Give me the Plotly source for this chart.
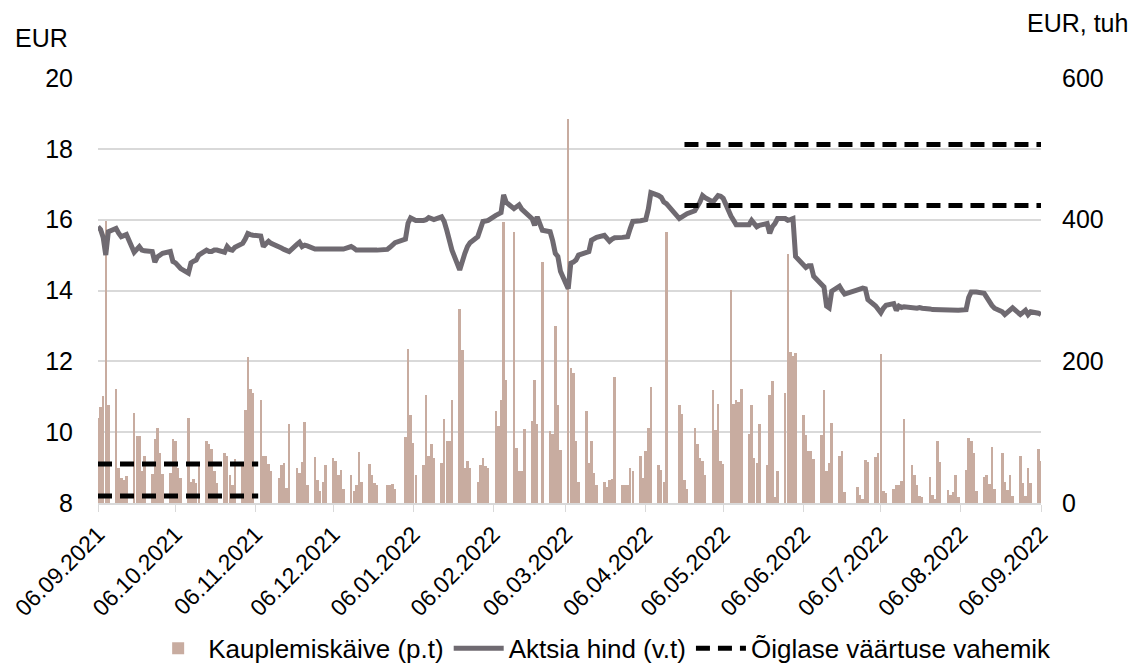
import pandas as pd
import plotly.graph_objects as go

# ---------------- data ----------------
holidays = ["2021-12-24", "2021-12-31", "2022-02-24", "2022-04-15", "2022-04-18",
            "2022-06-23", "2022-06-24"]

vol_2021_09 = [120, 135, 151, 398, 138, 161, 49, 35, 33, 38, 127, 94, 95, 45, 67, 41, 90, 106, 70]
vol_2021_10 = [41, 43, 90, 88, 49, 36, 120, 30, 34, 28, 52, 88, 83, 76, 45, 28, 70, 66, 40, 26, 62]
vol_2021_11 = [55, 132, 206, 161, 155, 146, 66, 67, 55, 45, 35, 53, 56, 21, 112, 50, 42, 58, 115, 25, 65, 33]
vol_2021_12 = [17, 30, 53, 64, 59, 39, 47, 20, 39, 17, 25, 72, 30, 55, 39, 28, 26, 25, 25, 27, 20]
vol_2022_01 = [93, 217, 124, 85, 40, 53, 152, 66, 84, 64, 56, 118, 87, 87, 146, 274, 216, 49, 59, 49, 30]
vol_2022_02 = [53, 64, 52, 49, 130, 109, 146, 397, 173, 382, 78, 45, 45, 104, 116, 173, 112, 340, 101]
vol_2022_03 = [97, 250, 138, 75, 542, 191, 184, 87, 30, 130, 56, 87, 42, 25, 30, 22, 33, 34, 178, 25, 25, 26, 49]
vol_2022_04 = [45, 67, 35, 73, 106, 164, 53, 47, 30, 383, 138, 125, 33, 20, 106, 84, 64, 59, 40]
vol_2022_05 = [160, 103, 140, 60, 55, 301, 140, 145, 143, 161, 98, 138, 63, 56, 112, 53, 153, 172, 8, 45, 155, 352]
vol_2022_06 = [213, 207, 212, 124, 96, 73, 73, 62, 96, 159, 45, 57, 113, 66, 73, 15, 23, 11, 5, 61]
vol_2022_07 = [58, 65, 71, 210, 17, 14, 20, 25, 25, 31, 118, 53, 39, 25, 10, 8, 37, 12, 5, 88, 58]
vol_2022_08 = [19, 12, 15, 39, 8, 47, 92, 88, 71, 17, 37, 39, 27, 79, 20, 70, 30, 19, 39, 10, 67, 28, 10]
vol_2022_09 = [49, 28, 76, 60]

price_dates = [
    "2021-09-06", "2021-09-07", "2021-09-08", "2021-09-09", "2021-09-10", "2021-09-13", "2021-09-14",
    "2021-09-15", "2021-09-16", "2021-09-17", "2021-09-20", "2021-09-21", "2021-09-22", "2021-09-23",
    "2021-09-24", "2021-09-27", "2021-09-28", "2021-09-29", "2021-09-30", "2021-10-01", "2021-10-04",
    "2021-10-05", "2021-10-06", "2021-10-07", "2021-10-08", "2021-10-11", "2021-10-12", "2021-10-13",
    "2021-10-14", "2021-10-15", "2021-10-18", "2021-10-19", "2021-10-20", "2021-10-21", "2021-10-22",
    "2021-10-25", "2021-10-26", "2021-10-27", "2021-10-28", "2021-10-29", "2021-11-01", "2021-11-02",
    "2021-11-03", "2021-11-04", "2021-11-05", "2021-11-08", "2021-11-09", "2021-11-10", "2021-11-11",
    "2021-11-12", "2021-11-15", "2021-11-16", "2021-11-17", "2021-11-18", "2021-11-19", "2021-11-22",
    "2021-11-23", "2021-11-24", "2021-11-25", "2021-11-26", "2021-11-29", "2021-12-10", "2021-12-13",
    "2021-12-14", "2021-12-15", "2021-12-23", "2021-12-27", "2021-12-28", "2021-12-29", "2021-12-30",
    "2022-01-03", "2022-01-04", "2022-01-05", "2022-01-06", "2022-01-07", "2022-01-10", "2022-01-11",
    "2022-01-12", "2022-01-13", "2022-01-14", "2022-01-17", "2022-01-18", "2022-01-19", "2022-01-20",
    "2022-01-21", "2022-01-24", "2022-01-25", "2022-01-26", "2022-01-27", "2022-01-28", "2022-01-31",
    "2022-02-01", "2022-02-02", "2022-02-03", "2022-02-04", "2022-02-07", "2022-02-08", "2022-02-09",
    "2022-02-10", "2022-02-11", "2022-02-14", "2022-02-15", "2022-02-16", "2022-02-17", "2022-02-18",
    "2022-02-21", "2022-02-22", "2022-02-23", "2022-02-25", "2022-02-28", "2022-03-01", "2022-03-02",
    "2022-03-03", "2022-03-04", "2022-03-07", "2022-03-08", "2022-03-09", "2022-03-10", "2022-03-11",
    "2022-03-14", "2022-03-15", "2022-03-16", "2022-03-17", "2022-03-18", "2022-03-21", "2022-03-22",
    "2022-03-23", "2022-03-24", "2022-03-25", "2022-03-28", "2022-03-29", "2022-03-30", "2022-03-31",
    "2022-04-01", "2022-04-04", "2022-04-05", "2022-04-06", "2022-04-07", "2022-04-08", "2022-04-11",
    "2022-04-12", "2022-04-13", "2022-04-14", "2022-04-19", "2022-04-20", "2022-04-21", "2022-04-22",
    "2022-04-25", "2022-04-26", "2022-04-27", "2022-04-28", "2022-04-29", "2022-05-02", "2022-05-03",
    "2022-05-04", "2022-05-05", "2022-05-06", "2022-05-09", "2022-05-10", "2022-05-11", "2022-05-12",
    "2022-05-13", "2022-05-16", "2022-05-17", "2022-05-18", "2022-05-19", "2022-05-20", "2022-05-23",
    "2022-05-24", "2022-05-25", "2022-05-26", "2022-05-27", "2022-05-30", "2022-05-31", "2022-06-01",
    "2022-06-02", "2022-06-03", "2022-06-06", "2022-06-07", "2022-06-08", "2022-06-09", "2022-06-10",
    "2022-06-13", "2022-06-14", "2022-06-15", "2022-06-16", "2022-06-17", "2022-06-20", "2022-06-21",
    "2022-06-22", "2022-06-27", "2022-06-28", "2022-06-29", "2022-06-30", "2022-07-01", "2022-07-04",
    "2022-07-05", "2022-07-06", "2022-07-07", "2022-07-08", "2022-07-11", "2022-07-12", "2022-07-13",
    "2022-07-14", "2022-07-15", "2022-07-18", "2022-07-19", "2022-07-20", "2022-07-21", "2022-07-22",
    "2022-07-25", "2022-07-26", "2022-08-05", "2022-08-08", "2022-08-09", "2022-08-10", "2022-08-11",
    "2022-08-12", "2022-08-15", "2022-08-16", "2022-08-17", "2022-08-18", "2022-08-19", "2022-08-22",
    "2022-08-23", "2022-08-24", "2022-08-25", "2022-08-26", "2022-08-29", "2022-08-30", "2022-08-31",
    "2022-09-01", "2022-09-02", "2022-09-05", "2022-09-06",
]
price_eur = [
    15.80, 15.72, 15.50, 15.00, 15.66, 15.75, 15.62,
    15.52, 15.55, 15.58, 15.08, 15.16, 15.24, 15.14,
    15.12, 15.10, 14.80, 14.95, 15.02, 15.05, 15.10,
    14.82, 14.78, 14.70, 14.62, 14.49, 14.78, 14.83,
    14.86, 15.00, 15.14, 15.10, 15.10, 15.14, 15.14,
    15.08, 15.24, 15.16, 15.14, 15.22, 15.33, 15.45,
    15.61, 15.58, 15.56, 15.54, 15.24, 15.32, 15.39,
    15.33, 15.26, 15.20, 15.16, 15.12, 15.10, 15.30,
    15.36, 15.24, 15.28, 15.26, 15.17, 15.17, 15.24,
    15.20, 15.14, 15.14, 15.16, 15.22, 15.28, 15.35,
    15.45, 15.90, 16.05, 16.00, 15.98, 15.98, 16.00,
    16.06, 16.02, 16.00, 16.08, 15.95, 15.70, 15.40,
    15.14, 14.58, 14.85, 15.05, 15.24, 15.35, 15.52,
    15.70, 15.95, 15.96, 15.98, 16.12, 16.15, 16.20,
    16.70, 16.49, 16.31, 16.36, 16.42, 16.30, 16.23,
    16.03, 15.84, 16.08, 15.70, 15.66, 15.40, 15.05,
    14.96, 14.54, 14.05, 14.77, 14.80, 14.86, 15.00,
    15.06, 15.10, 15.42, 15.48, 15.50, 15.56, 15.45,
    15.39, 15.45, 15.49, 15.50, 15.52, 15.52, 15.75,
    15.95, 15.97, 15.98, 16.00, 16.30, 16.76, 16.68,
    16.63, 16.50, 16.45, 16.03, 16.08, 16.12, 16.17,
    16.25, 16.36, 16.50, 16.68, 16.62, 16.50, 16.62,
    16.68, 16.66, 16.60, 16.10, 15.95, 15.86, 15.86,
    15.86, 15.86, 15.98, 15.88, 15.80, 15.84, 15.89,
    15.61, 15.80, 15.89, 16.03, 16.03, 15.98, 16.00,
    16.03, 14.96, 14.70, 14.65, 14.70, 14.70, 14.40,
    14.20, 14.10, 13.56, 13.51, 13.98, 14.12, 14.00,
    13.90, 14.02, 14.05, 14.07, 14.05, 13.74, 13.56,
    13.45, 13.37, 13.50, 13.58, 13.63, 13.44, 13.56,
    13.52, 13.54, 13.51, 13.53, 13.50, 13.52, 13.50,
    13.48, 13.46, 13.44, 13.46, 13.80, 13.96, 13.96,
    13.96, 13.92, 13.79, 13.65, 13.58, 13.50, 13.40,
    13.32, 13.40, 13.46, 13.51, 13.32, 13.38, 13.44,
    13.32, 13.40, 13.36, 13.32,
]

fair_2021_dates = ["2021-09-06", "2021-11-07"]
fair_2021_low, fair_2021_high = 8.20, 9.10
fair_2022_dates = ["2022-04-21", "2022-09-06"]
fair_2022_low, fair_2022_high = 16.40, 18.12

tick_dates = ["2021-09-06", "2021-10-06", "2021-11-06", "2021-12-06", "2022-01-06", "2022-02-06",
              "2022-03-06", "2022-04-06", "2022-05-06", "2022-06-06", "2022-07-06", "2022-08-06",
              "2022-09-06"]
tick_labels = ["06.09.2021", "06.10.2021", "06.11.2021", "06.12.2021", "06.01.2022", "06.02.2022",
               "06.03.2022", "06.04.2022", "06.05.2022", "06.06.2022", "06.07.2022", "06.08.2022",
               "06.09.2022"]

# ---------------- build ----------------
trading_days = [d for d in pd.bdate_range("2021-09-06", "2022-09-06")
                if d.strftime("%Y-%m-%d") not in holidays]
volumes = (vol_2021_09 + vol_2021_10 + vol_2021_11 + vol_2021_12 + vol_2022_01 + vol_2022_02 +
           vol_2022_03 + vol_2022_04 + vol_2022_05 + vol_2022_06 + vol_2022_07 + vol_2022_08 +
           vol_2022_09)
n = min(len(trading_days), len(volumes))
trading_days = trading_days[:n]
volumes = volumes[:n]

fair_x = (fair_2021_dates + [None] + fair_2021_dates + [None] +
          fair_2022_dates + [None] + fair_2022_dates)
fair_y = ([fair_2021_low, fair_2021_low, None, fair_2021_high, fair_2021_high, None,
           fair_2022_low, fair_2022_low, None, fair_2022_high, fair_2022_high])

FONT = "Liberation Sans, Arial, sans-serif"
BAR_C = "#C8ACA0"
LINE_C = "#6F6A71"
GRID_C = "#D9D9D9"

fig = go.Figure()
fig.add_trace(go.Bar(
    x=trading_days, y=volumes, name="Kauplemiskäive (p.t)",
    marker=dict(color=BAR_C, line=dict(width=0)),
    width=0.97 * 86400000, yaxis="y",
))
fig.add_trace(go.Scatter(
    x=price_dates, y=price_eur, name="Aktsia hind (v.t)", mode="lines",
    line=dict(color=LINE_C, width=5), yaxis="y2",
))
fig.add_trace(go.Scatter(
    x=fair_x, y=fair_y, name="Õiglase väärtuse vahemik", mode="lines",
    line=dict(color="black", width=5, dash="14px,8px"), yaxis="y2",
    connectgaps=False,
))

fig.update_layout(
    width=1134, height=667,
    margin=dict(l=98, r=93, t=78, b=164, autoexpand=False),
    paper_bgcolor="white", plot_bgcolor="white",
    font=dict(family=FONT, size=25, color="black"),
    showlegend=True,
    legend=dict(orientation="h", xref="container", yref="container",
                x=0.531, xanchor="center", y=0.028, yanchor="middle",
                font=dict(size=26), itemwidth=50, traceorder="normal", tracegroupgap=0),
    xaxis=dict(
        type="date", range=["2021-09-06", "2022-09-06"],
        tickvals=tick_dates, ticktext=tick_labels, tickangle=-45,
        ticks="outside", ticklen=7, tickcolor=GRID_C, tickwidth=1,
        showline=True, linecolor=GRID_C, linewidth=1.5,
        showgrid=False, zeroline=False, automargin=False,
        tickfont=dict(size=23, family=FONT),
    ),
    yaxis=dict(
        side="right", range=[0, 600], tickvals=[0, 200, 400, 600],
        showgrid=False, zeroline=False, showline=False, ticks="", automargin=False,
        ticklabelstandoff=20, tickfont=dict(size=25),
    ),
    yaxis2=dict(
        side="left", overlaying="y", range=[8, 20], tickvals=[8, 10, 12, 14, 16, 18, 20],
        showgrid=True, gridcolor=GRID_C, gridwidth=1.5, zeroline=False, showline=False, ticks="",
        automargin=False, ticklabelstandoff=24, tickfont=dict(size=25),
    ),
    bargap=0,
    annotations=[
        dict(text="EUR", xref="paper", yref="paper", x=-0.03, y=1.0, xanchor="right",
             yanchor="bottom", yshift=24, showarrow=False, font=dict(size=25)),
        dict(text="EUR, tuh", xref="paper", yref="paper", x=1.094, y=1.0, xanchor="right",
             yanchor="bottom", yshift=39, showarrow=False, font=dict(size=25)),
    ],
)

fig.write_html("out.html", config={"displayModeBar": False},
               post_script="document.body.style.margin='0px';")
